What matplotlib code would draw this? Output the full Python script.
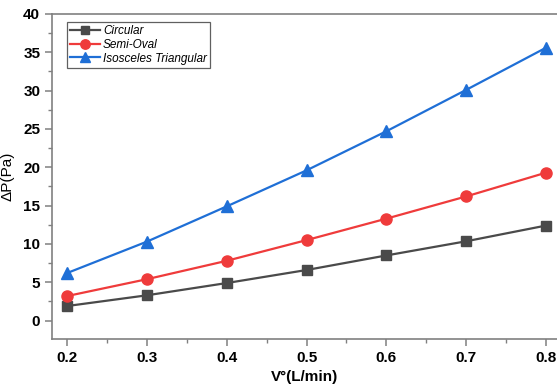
import matplotlib
matplotlib.use('Agg')
import matplotlib.pyplot as plt
from matplotlib.ticker import MultipleLocator

plt.rcParams['font.family'] = ['Liberation Sans', 'DejaVu Sans']

flow = [0.2, 0.3, 0.4, 0.5, 0.6, 0.7, 0.8]
circular = [1.9, 3.3, 4.9, 6.6, 8.5, 10.35, 12.4]
semi_oval = [3.2, 5.4, 7.8, 10.5, 13.3, 16.2, 19.3]
triangular = [6.2, 10.3, 14.9, 19.6, 24.7, 30.1, 35.6]

fig = plt.figure(figsize=(5.57, 3.89), dpi=100)
ax = fig.add_axes([52/557, 50/389, 505/557, 325/389])

ax.plot(flow, circular, '-s', color='#4a4a4a', lw=1.6, ms=7, label='Circular')
ax.plot(flow, semi_oval, '-o', color='#ef3b3b', lw=1.6, ms=8, label='Semi-Oval')
ax.plot(flow, triangular, '-^', color='#1f6fd6', lw=1.6, ms=8, label='Isosceles Triangular')

ax.set_xlim(0.2 - 15/798, 0.8 + 11/798)
ax.set_ylim(-2.4, 40)
ax.xaxis.set_major_locator(MultipleLocator(0.1))
ax.xaxis.set_minor_locator(MultipleLocator(0.05))
ax.yaxis.set_major_locator(MultipleLocator(5))
ax.yaxis.set_minor_locator(MultipleLocator(2.5))
ax.set_xticks([0.2, 0.3, 0.4, 0.5, 0.6, 0.7, 0.8])
ax.set_xticklabels(['0.2', '0.3', '0.4', '0.5', '0.6', '0.7', '0.8'])

for s in ['left', 'bottom', 'top']:
    ax.spines[s].set_color('#808080')
    ax.spines[s].set_linewidth(1.2)
ax.spines['right'].set_visible(False)

ax.tick_params(which='major', direction='out', length=5, width=1.1, color='#808080',
               labelsize=11, top=False, right=False)
ax.tick_params(which='minor', direction='out', length=3, width=1, color='#808080',
               top=False, right=False)
for lab in ax.get_xticklabels() + ax.get_yticklabels():
    lab.set_fontweight('bold')

ax.set_xlabel('V°(L/min)', fontsize=11, fontweight='bold')
ax.set_ylabel('ΔP(Pa)', fontsize=11, labelpad=6)

leg = ax.legend(loc='upper left', bbox_to_anchor=(0.03, 0.975), fancybox=False,
                edgecolor='#606060', framealpha=1, prop={'style': 'italic', 'size': 8.5},
                handlelength=2.5, handletextpad=0.3, borderpad=0.25, labelspacing=0.15,
                borderaxespad=0, markerscale=0.85)
leg.get_frame().set_linewidth(0.9)

fig.savefig('out.png', dpi=100)
